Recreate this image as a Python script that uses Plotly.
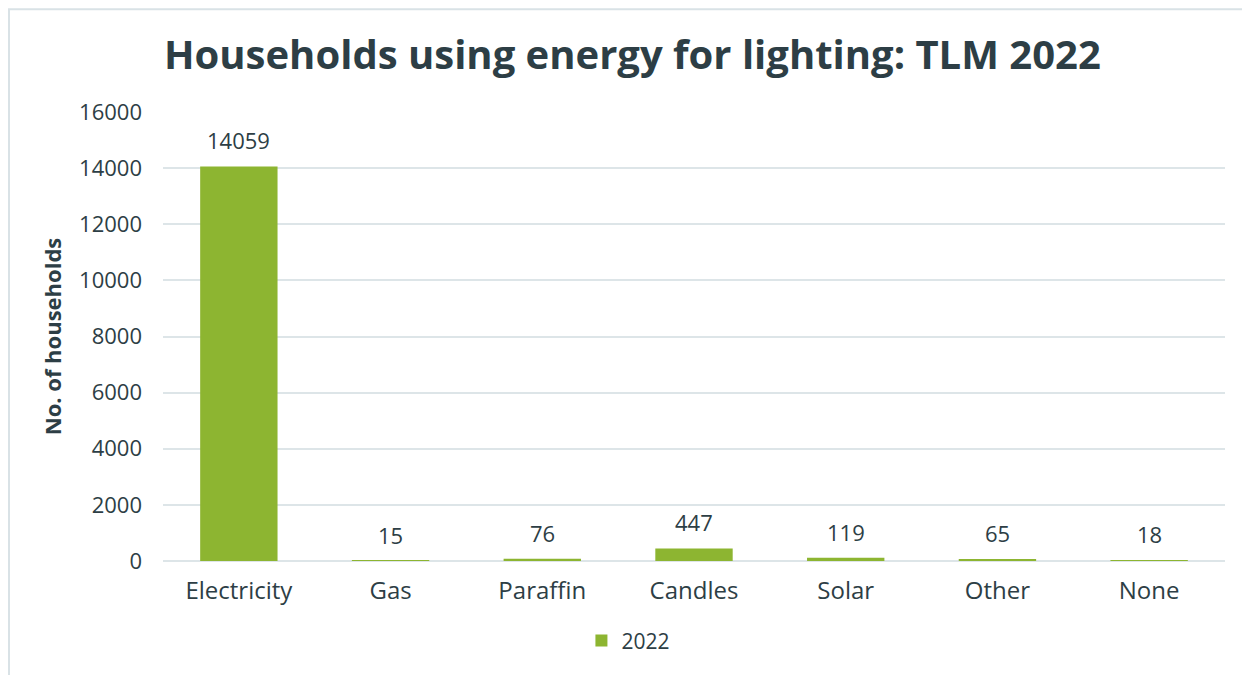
import plotly.graph_objects as go

# Data
categories = ["Electricity", "Gas", "Paraffin", "Candles", "Solar", "Other", "None"]
households_2022 = [14059, 15, 76, 447, 119, 65, 18]

text_color = "#2d3e45"
grid_color = "#dde5e8"
font_family = "Open Sans, sans-serif"

fig = go.Figure()

fig.add_trace(
    go.Bar(
        x=categories,
        y=households_2022,
        name="2022",
        marker=dict(color="#8db531", line=dict(width=0)),
    )
)

# value labels above the bars
for cat, val in zip(categories, households_2022):
    fig.add_annotation(
        x=cat,
        y=val,
        text=str(val),
        showarrow=False,
        yanchor="middle",
        yshift=26,
        font=dict(size=22, color=text_color, family=font_family),
    )

fig.update_layout(
    width=1250,
    height=675,
    margin=dict(l=155, r=33, t=104, b=122),
    paper_bgcolor="white",
    plot_bgcolor="white",
    font=dict(family=font_family, color=text_color),
    title=dict(
        text="<b>Households using energy for lighting: TLM 2022</b>",
        font=dict(size=40, color=text_color),
        x=0.4995,
        xanchor="center",
        xref="container",
        y=0.93,
        yanchor="middle",
    ),
    bargap=0.49,
    showlegend=True,
    legend=dict(
        orientation="h",
        x=0.394,
        xanchor="left",
        y=-0.178,
        yanchor="middle",
        font=dict(size=21, color=text_color),
        itemwidth=30,
    ),
    shapes=[
        dict(
            type="rect",
            xref="paper",
            yref="paper",
            x0=-0.145,
            x1=1.06,
            y0=-0.3,
            y1=1.229,
            line=dict(color="#d9e2e6", width=2),
            fillcolor="rgba(0,0,0,0)",
            layer="below",
        )
    ],
)

fig.update_xaxes(
    showgrid=False,
    showline=False,
    ticks="",
    ticklabelstandoff=13,
    tickfont=dict(size=24, color=text_color),
)

fig.update_yaxes(
    range=[0, 16000],
    dtick=2000,
    tickformat="d",
    showgrid=True,
    gridcolor=grid_color,
    gridwidth=2,
    zeroline=True,
    zerolinecolor=grid_color,
    zerolinewidth=2,
    ticklabelstandoff=20,
    tickfont=dict(size=22, color=text_color),
    title=dict(
        text="<b>No. of households</b>",
        font=dict(size=22, color=text_color),
        standoff=11,
    ),
)

fig.write_html("out.html")
